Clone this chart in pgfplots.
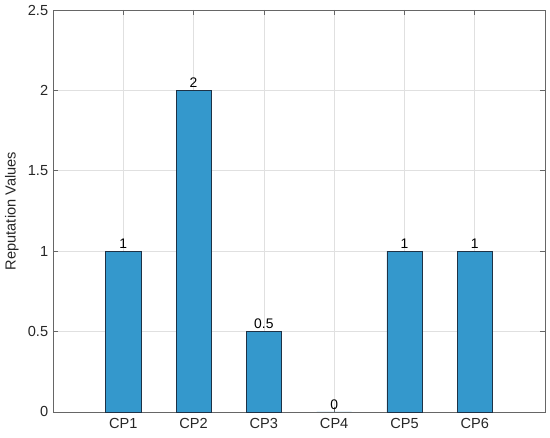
\documentclass[border=0pt]{standalone}
\usepackage{pgfplots}
\pgfplotsset{compat=1.18}
\usepackage{fontspec}
\setmainfont{Liberation Sans}
\definecolor{barfill}{RGB}{52,152,204}
\definecolor{baredge}{RGB}{30,50,70}
\definecolor{axgray}{RGB}{38,38,38}
\begin{document}
\begin{tikzpicture}
\begin{axis}[
  at={(0,0)}, anchor=south west,
  scale only axis,
  width=354.2pt, height=289.4pt,
  xmin=0, xmax=7, ymin=0, ymax=2.5,
  xtick={1,2,3,4,5,6},
  xticklabels={CP1,CP2,CP3,CP4,CP5,CP6},
  ytick={0,0.5,1,1.5,2,2.5},
  yticklabels={0,0.5,1,1.5,2,2.5},
  grid=major,
  major grid style={line width=0.4pt, draw=black!12},
  axis line style={draw=black!60, line width=0.5pt},
  tick style={draw=black!60, line width=0.5pt},
  tick align=inside,
  major tick length=3.5pt,
  ticklabel style={font=\fontsize{10.5}{12}\selectfont, text=axgray},
  ylabel={Reputation Values},
  ylabel style={font=\fontsize{10.5}{12}\selectfont, text=axgray, at={(axis description cs:-0.0836,0.5)}, anchor=center},
  xticklabel style={yshift=-1pt},
  clip=false,
]
\addplot[ybar, bar width=0.5, fill=barfill, draw=baredge, line width=0.5pt,
  nodes near coords,
  nodes near coords style={font=\fontsize{10}{11}\selectfont, text=black, inner sep=1.5pt},
  point meta=explicit symbolic]
  coordinates {(1,1)[1] (2,2)[2] (3,0.5)[0.5] (5,1)[1] (6,1)[1]};
\addplot[ybar, bar width=0.5, fill=barfill, draw=none,
  nodes near coords,
  nodes near coords style={font=\fontsize{10}{11}\selectfont, text=black, inner sep=1.5pt},
  point meta=explicit symbolic]
  coordinates {(4,0)[0]};
\end{axis}
\pgfresetboundingbox
\path[use as bounding box] (-38.2pt,-18.7pt) rectangle (357.8pt,296.6pt);
\end{tikzpicture}
\end{document}
